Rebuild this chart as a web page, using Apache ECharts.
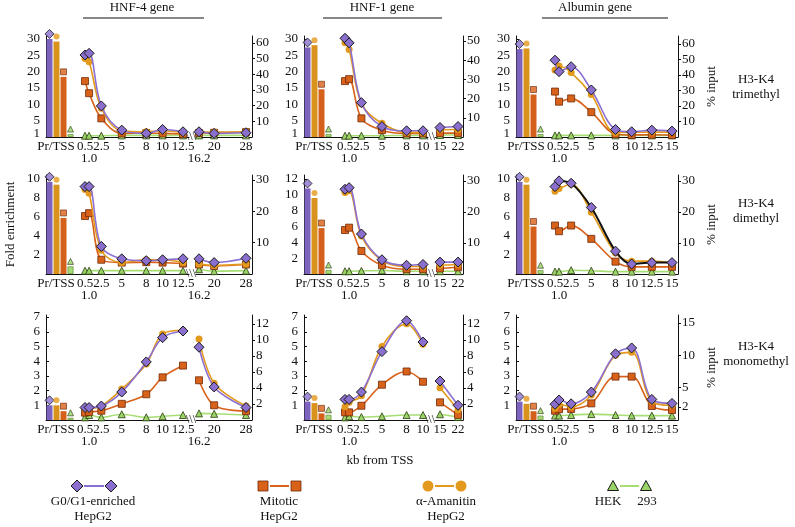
<!DOCTYPE html>
<html>
<head>
<meta charset="utf-8">
<script src="https://cdn.jsdelivr.net/npm/echarts@6/dist/echarts.min.js"></script>
<style>html,body{margin:0;background:#fff}#main{width:795px;height:527px}</style>
</head>
<body>
<div id="main"></div>
<script>
// kb from TSS for each gene (HNF-4 breaks after 12.5, HNF-1 after 10)
const kbHNF4 = [0.5, 1.0, 2.5, 5, 8, 10, 12.5, 16.2, 20, 28];
const kbHNF1 = [0.5, 1.0, 2.5, 5, 8, 10, 15, 22];
const kbAlb = [0.5, 1.0, 2.5, 5, 8, 10, 12.5, 15];

// Pr/TSS bars, order: G0/G1, α-Amanitin, Mitotic, HEK 293
const barCats = ['G0/G1', 'α-Amanitin', 'Mitotic', 'HEK'];

// H3-K4 trimethyl
const triHNF4Bars = [30, 29.2, 18.4, 0.9];
const triHNF4G0 = [25.1, 25.6, 9.5, 2.1, 1.1, 2.3, 1.6, 1.6, 1.1, 1.3];
const triHNF4Ama = [24.0, 23.0, 8.8, 1.9, 1.6, 1.9, 1.3, 1.5, 1.5, 1.6];
const triHNF4Mit = [17.1, 13.4, 5.7, 1.1, 1.2, 1.1, 0.9, 1.2, 1.3, 1.5];
const triHNF4Hek = [0.4, 0.4, 0.4, 0.5, 0.5, 0.5, 0.5, 0.5, 0.5, 0.5];

const triHNF1Bars = [27.4, 28.1, 14.6, 0.9];
const triHNF1G0 = [30.2, 28.8, 10.5, 3.2, 1.9, 1.9, 2.9, 3.2];
const triHNF1Ama = [28.8, 26.8, 10.2, 4.2, 1.4, 1.4, 2.2, 2.3];
const triHNF1Mit = [17.1, 17.7, 5.7, 2.1, 1.1, 1.1, 1.2, 1.2];
const triHNF1Hek = [0.4, 0.4, 0.4, 0.4, 0.5, 0.5, 0.6, 0.6];

const triAlbBars = [26.9, 27.1, 13.0, 0.9];
const triAlbG0 = [23.5, 20.0, 21.5, 14.4, 2.3, 1.6, 2.1, 1.8];
const triAlbAma = [20.5, 21.7, 19.7, 13.0, 1.4, 1.4, 1.5, 1.5];
const triAlbMit = [13.9, 10.8, 11.8, 7.6, 0.9, 0.6, 0.7, 0.6];
const triAlbHek = [0.5, 0.5, 0.5, 0.5, 0.5, 0.5, 0.5, 0.5];

// H3-K4 dimethyl
const diHNF4Bars = [9.7, 9.4, 5.9, 0.8];
const diHNF4G0 = [9.2, 9.2, 2.9, 1.6, 1.4, 1.5, 1.6, 1.6, 1.2, 1.65];
const diHNF4Ama = [8.9, 8.5, 2.5, 1.2, 1.5, 1.5, 1.2, 1.05, 0.9, 1.05];
const diHNF4Mit = [6.1, 6.4, 1.5, 1.2, 1.25, 1.2, 1.1, 1.0, 0.85, 1.0];
const diHNF4Hek = [0.35, 0.35, 0.35, 0.35, 0.35, 0.35, 0.35, 0.5, 0.3, 0.35];

const diHNF1Bars = [10.8, 9.6, 5.8, 0.5];
const diHNF1G0 = [10.7, 10.9, 5.05, 1.8, 1.1, 1.2, 1.5, 1.5];
const diHNF1Ama = [10.3, 10.5, 4.8, 1.7, 0.95, 0.95, 1.1, 1.2];
const diHNF1Mit = [5.55, 5.85, 2.9, 1.1, 0.6, 0.6, 0.7, 0.85];
const diHNF1Hek = [0.35, 0.35, 0.4, 0.45, 0.35, 0.35, 0.35, 0.35];

const diAlbBars = [9.7, 9.4, 5.0, 0.4];
const diAlbG0 = [9.2, 9.8, 9.55, 7.0, 2.4, 1.05, 1.2, 1.2];
const diAlbAma = [8.7, 9.0, 9.45, 6.5, 2.2, 1.35, 1.35, 1.15];
const diAlbMit = [5.1, 4.5, 5.1, 3.7, 1.3, 0.75, 0.75, 0.75];
const diAlbHek = [0.25, 0.25, 0.4, 0.35, 0.25, 0.25, 0.25, 0.25];

// H3-K4 monomethyl
const monoHNF4Bars = [1.0, 1.0, 0.6, 0.15];
const monoHNF4G0 = [0.85, 0.85, 0.95, 1.9, 3.95, 5.6, 6.05, 4.95, 2.25, 0.85];
const monoHNF4Ama = [0.8, 0.8, 0.95, 2.1, 3.8, 5.85, 6.1, 5.5, 2.5, 0.95];
const monoHNF4Mit = [0.5, 0.55, 0.63, 1.1, 1.75, 2.9, 3.7, 2.7, 1.0, 0.6];
const monoHNF4Hek = [0.18, 0.34, 0.18, 0.39, 0.18, 0.25, 0.34, 0.45, 0.42, 0.34];

const monoHNF1Bars = [1.25, 1.15, 0.45, 0.35];
const monoHNF1G0 = [1.4, 1.4, 1.9, 4.65, 6.75, 5.3, 2.65, 1.0];
const monoHNF1Ama = [0.9, 1.2, 1.65, 5.0, 6.55, 5.15, 2.2, 0.7];
const monoHNF1Mit = [0.52, 0.52, 0.97, 2.4, 3.3, 2.6, 1.2, 0.35];
const monoHNF1Hek = [0.18, 0.25, 0.2, 0.25, 0.34, 0.34, 0.39, 0.2];

const monoAlbBars = [1.25, 1.1, 0.6, 0.3];
const monoAlbG0 = [1.07, 1.36, 1.1, 1.9, 4.5, 4.9, 1.4, 1.13];
const monoAlbAma = [0.8, 1.07, 0.9, 1.7, 4.4, 4.6, 1.25, 1.0];
const monoAlbMit = [0.63, 0.73, 0.75, 1.13, 2.95, 2.95, 0.95, 0.68];
const monoAlbHek = [0.3, 0.3, 0.34, 0.4, 0.34, 0.3, 0.3, 0.3];

// tick labels: first line and second line under the kb axis
const xTicksA = [[0.5, 2.5, 5, 8, 10, 12.5], [0.5, 2.5, 5, 8, 10], [0.5, 2.5, 5, 8, 10, 12.5, 15]];
const xTicksA2 = [[1], [1], [1]];
const xTicksB = [[20, 28], [15, 22], null];
const xTicksB2 = [[16.2], [], null];
const leftTicks = [
  [[1, 5, 10, 15, 20, 25, 30], [1, 5, 10, 15, 20, 25, 30], [1, 5, 10, 15, 20, 25, 30]],
  [[2, 4, 6, 8, 10], [2, 4, 6, 8, 10, 12], [2, 4, 6, 8, 10]],
  [[1, 2, 3, 4, 5, 6, 7], [1, 2, 3, 4, 5, 6, 7], [1, 2, 3, 4, 5, 6, 7]]
];
const rightTicks = [
  [[10, 20, 30, 40, 50, 60], [10, 20, 30, 40, 50], [10, 20, 30, 40, 50, 60]],
  [[10, 20, 30], [10, 20, 30], [10, 20, 30]],
  [[2, 4, 6, 8, 10, 12], [2, 4, 6, 8, 10, 12], [2, 5, 10, 15]]
];
const leftMax = [[30.9, 30.9, 30.9], [10.42, 12.5, 10.42], [7.14, 7.14, 7.14]];
const rightMax = [[64.5, 52.6, 65.2], [31.6, 31.9, 31.9], [13.1, 13.1, 16.2]];

const genes = ['HNF-4 gene', 'HNF-1 gene', 'Albumin gene'];
const marks = ['H3-K4\ntrimethyl', 'H3-K4\ndimethyl', 'H3-K4\nmonomethyl'];
const legendNames = ['G0/G1-enriched\nHepG2', 'Mitotic\nHepG2', 'α-Amanitin\nHepG2'];

const kbCols = [kbHNF4, kbHNF1, kbAlb];
const breakAt = [7, 6, null];
const panelData = [
  [[triHNF4Bars, [triHNF4G0, triHNF4Ama, triHNF4Mit, triHNF4Hek]],
   [triHNF1Bars, [triHNF1G0, triHNF1Ama, triHNF1Mit, triHNF1Hek]],
   [triAlbBars, [triAlbG0, triAlbAma, triAlbMit, triAlbHek]]],
  [[diHNF4Bars, [diHNF4G0, diHNF4Ama, diHNF4Mit, diHNF4Hek]],
   [diHNF1Bars, [diHNF1G0, diHNF1Ama, diHNF1Mit, diHNF1Hek]],
   [diAlbBars, [diAlbG0, diAlbAma, diAlbMit, diAlbHek]]],
  [[monoHNF4Bars, [monoHNF4G0, monoHNF4Ama, monoHNF4Mit, monoHNF4Hek]],
   [monoHNF1Bars, [monoHNF1G0, monoHNF1Ama, monoHNF1Mit, monoHNF1Hek]],
   [monoAlbBars, [monoAlbG0, monoAlbAma, monoAlbMit, monoAlbHek]]]
];

// layout (pixels)
const cols = [
  {axisX: 45, aRight: 189, bLeft: 196, right: 252, mapA: [0.5, 85, 12.5, 183], mapB: [16.2, 199, 28, 246]},
  {axisX: 303, aRight: 428, bLeft: 435, right: 463, mapA: [0.5, 345, 10, 423], mapB: [15, 440, 22, 458]},
  {axisX: 515, aRight: 678, right: 678, mapA: [0.5, 555, 15, 672]}
];
const rows = [{top: 36, bottom: 137}, {top: 175, bottom: 274}, {top: 315, bottom: 420}];

const FONT = 'Liberation Serif';
const FS = 13;
const txt = {fontFamily: FONT, fontSize: FS, color: '#111'};
const gfont = FS + 'px "Liberation Serif"';
const black = {onZero: false, lineStyle: {color: '#111', width: 1}};

const barColors = ['#7d63bd', '#d9931c', '#d4601c', '#a8da78'];
const look = [
  {symbol: 'diamond', size: 10, fill: '#8a6fce', line: '#8b6fd1', border: '#1a1a1a', bw: 1, z: 5},
  {symbol: 'circle', size: 7, fill: '#e39a1c', line: '#e39a1c', border: '#e39a1c', bw: 0, z: 4},
  {symbol: 'rect', size: 7, fill: '#d9621a', line: '#d9621a', border: '#6e2a08', bw: 0.8, z: 3},
  {symbol: 'triangle', size: 7, fill: '#9ad466', line: '#a6de74', border: '#2a3a10', bw: 0.8, z: 2}
];

const option = {
  animation: false,
  backgroundColor: '#fff',
  textStyle: {fontFamily: FONT},
  grid: [], xAxis: [], yAxis: [], series: [], graphic: []
};

function addGrid(left, right, top, bottom) {
  option.grid.push({left: left, top: top, width: right - left, height: bottom - top, outerBoundsMode: 'none'});
  return option.grid.length - 1;
}
function range(map, left, right) {
  const slope = (map[3] - map[1]) / (map[2] - map[0]);
  return [map[0] - (map[1] - left) / slope, map[0] + (right - map[1]) / slope];
}
function fmtKb(v) {
  return v === 1 ? '1.0' : String(v);
}
function rightAxis(g, r, c, withName) {
  option.yAxis.push({
    gridIndex: g, type: 'value', position: 'right', min: 0, max: rightMax[r][c],
    axisLine: Object.assign({show: true}, black),
    axisTick: {show: true, inside: false, length: 3, customValues: rightTicks[r][c], lineStyle: {color: '#111'}},
    axisLabel: Object.assign({customValues: rightTicks[r][c], margin: 4, hideOverlap: false}, txt),
    splitLine: {show: false},
    name: withName ? '% input' : '', nameLocation: 'middle', nameRotate: 90, nameGap: 27,
    nameTextStyle: txt
  });
  return option.yAxis.length - 1;
}
function hiddenY(g, r, c) {
  option.yAxis.push({gridIndex: g, type: 'value', min: 0, max: leftMax[r][c], show: false});
  return option.yAxis.length - 1;
}
function valueX(g, mn, mx, ticks, ticks2, extra) {
  option.xAxis.push(Object.assign({
    gridIndex: g, type: 'value', min: mn, max: mx,
    axisLine: Object.assign({show: true}, black),
    axisTick: {show: false},
    axisLabel: Object.assign({customValues: ticks, formatter: fmtKb, margin: 3, hideOverlap: false}, txt),
    splitLine: {show: false}
  }, extra || {}));
  const idx = option.xAxis.length - 1;
  // second row of kb labels (1.0, 16.2)
  if (ticks2 && ticks2.length) {
    option.xAxis.push({
      gridIndex: g, type: 'value', min: mn, max: mx, position: 'bottom',
      axisLine: {show: false, onZero: false}, axisTick: {show: false},
      axisLabel: Object.assign({customValues: ticks2, formatter: fmtKb, margin: 15, hideOverlap: false}, txt),
      splitLine: {show: false}
    });
  }
  return idx;
}
function addLines(xi, yi, kb, lines, from, to, r, c) {
  lines.forEach((vals, s) => {
    const st = look[s];
    const lineColor = (r === 1 && c === 2 && s === 0) ? '#111' : st.line;
    option.series.push({
      type: 'line', xAxisIndex: xi, yAxisIndex: yi, z: st.z,
      smooth: 0.35,
      symbol: st.symbol, symbolSize: st.size,
      itemStyle: {color: st.fill, borderColor: st.border, borderWidth: st.bw},
      lineStyle: {color: lineColor, width: lineColor === '#111' ? 2 : 1.6},
      data: kb.slice(from, to).map((k, i) => [k, vals[from + i]])
    });
  });
}

for (let r = 0; r < 3; r++) {
  for (let c = 0; c < 3; c++) {
    const L = cols[c], R = rows[r];
    const bars = panelData[r][c][0], lines = panelData[r][c][1];
    const kb = kbCols[c];

    // Pr/TSS bars
    const gb = addGrid(L.axisX + 1, L.axisX + 29, R.top, R.bottom);
    option.xAxis.push({
      gridIndex: gb, type: 'category', data: barCats,
      axisLine: Object.assign({show: true}, black), axisTick: {show: false}, axisLabel: {show: false},
      name: 'Pr/TSS', nameLocation: 'middle', nameGap: 3, nameMoveOverlap: false,
      nameTextStyle: Object.assign({padding: [0, 8, 0, 0]}, txt)
    });
    option.yAxis.push({
      gridIndex: gb, type: 'value', position: 'left', min: 0, max: leftMax[r][c],
      axisLine: Object.assign({show: true}, black),
      axisTick: {show: true, inside: true, length: 3, customValues: leftTicks[r][c], lineStyle: {color: '#111'}},
      axisLabel: Object.assign({customValues: leftTicks[r][c], margin: 6, hideOverlap: false}, txt),
      splitLine: {show: false},
      name: (r === 1 && c === 0) ? 'Fold enrichment' : '', nameLocation: 'middle', nameRotate: 90, nameGap: 29,
      nameTextStyle: txt
    });
    const bx = option.xAxis.length - 1, by = option.yAxis.length - 1;
    option.series.push({
      type: 'bar', xAxisIndex: bx, yAxisIndex: by, barWidth: 6,
      data: bars.map((v, i) => ({value: v, itemStyle: {color: barColors[i], borderColor: i === 3 ? '#6a9a40' : barColors[i], borderWidth: i === 3 ? 0.8 : 0}}))
    });
    option.series.push({
      type: 'scatter', xAxisIndex: bx, yAxisIndex: by, symbolOffset: [0, -5], z: 3,
      data: bars.map((v, i) => ({
        value: [i, v], symbol: look[i].symbol,
        symbolSize: look[i].size - 1,
        itemStyle: {color: look[i].fill, borderColor: look[i].border, borderWidth: look[i].bw}
      }))
    });

    // kb lines before the break
    const brk = breakAt[c] === null ? kb.length : breakAt[c];
    const aLeft = L.axisX + 29;
    const ra = range(L.mapA, aLeft, L.aRight);
    const gA = addGrid(aLeft, L.aRight, R.top, R.bottom);
    const extraA = (r === 2 && c === 1) ? {name: 'kb from TSS', nameLocation: 'middle', nameGap: 34, nameMoveOverlap: false, nameTextStyle: txt} : null;
    const xa = valueX(gA, ra[0], ra[1], xTicksA[c], xTicksA2[c], extraA);
    const ya = hiddenY(gA, r, c);
    if (breakAt[c] === null) rightAxis(gA, r, c, true);
    addLines(xa, ya, kb, lines, 0, brk, r, c);

    // kb lines after the break
    if (breakAt[c] !== null) {
      const rb = range(L.mapB, L.bLeft, L.right);
      const gB = addGrid(L.bLeft, L.right, R.top, R.bottom);
      const xb = valueX(gB, rb[0], rb[1], xTicksB[c], xTicksB2[c], {
        name: '\\\\\\', nameLocation: 'start', nameGap: 0, nameMoveOverlap: false,
        nameTextStyle: {fontFamily: FONT, fontSize: 12, color: '#111', verticalAlign: 'middle'}
      });
      const yb = hiddenY(gB, r, c);
      rightAxis(gB, r, c, false);
      addLines(xb, yb, kb, lines, brk, kb.length, r, c);
    }
  }
}

// gene titles with rules
const titleX = [142, 382, 595];
const ruleX = [[83, 204], [323, 442], [542, 668]];
genes.forEach((g, i) => {
  option.graphic.push({type: 'text', x: titleX[i], y: 8, style: {text: g, font: gfont, fill: '#111', align: 'center', verticalAlign: 'middle'}});
  option.graphic.push({type: 'line', shape: {x1: ruleX[i][0], y1: 18, x2: ruleX[i][1], y2: 18}, style: {stroke: '#111', lineWidth: 1}});
});
// modification labels
const markY = [87, 211, 354];
marks.forEach((m, i) => {
  option.graphic.push({type: 'text', x: 756, y: markY[i], style: {text: m, font: gfont, lineHeight: 15, fill: '#111', align: 'center', verticalAlign: 'middle'}});
});

// legend
function legendSym(kind, x, y, st) {
  if (kind === 'diamond') return {type: 'polygon', shape: {points: [[x, y - 6], [x + 6, y], [x, y + 6], [x - 6, y]]}, style: {fill: st.fill, stroke: '#1a1a1a', lineWidth: 1}, z: 10};
  if (kind === 'rect') return {type: 'rect', shape: {x: x - 5, y: y - 5, width: 10, height: 10}, style: {fill: st.fill, stroke: '#6e2a08', lineWidth: 0.8}, z: 10};
  if (kind === 'circle') return {type: 'circle', shape: {cx: x, cy: y, r: 5.5}, style: {fill: st.fill}, z: 10};
  return {type: 'polygon', shape: {points: [[x, y - 5.5], [x + 5.5, y + 4.5], [x - 5.5, y + 4.5]]}, style: {fill: st.fill, stroke: '#1a1a1a', lineWidth: 1}, z: 10};
}
const legendItems = [
  {st: look[0], xs: [77, 111], tx: 93, text: legendNames[0]},
  {st: look[2], xs: [263, 296], tx: 279, text: legendNames[1]},
  {st: look[1], xs: [428, 461], tx: 446, text: legendNames[2]},
  {st: look[3], xs: [613, 646], tx: null, text: null}
];
legendItems.forEach(it => {
  option.graphic.push({type: 'line', shape: {x1: it.xs[0] + 7, y1: 486, x2: it.xs[1] - 7, y2: 486}, style: {stroke: it.st.line, lineWidth: 2}});
  option.graphic.push(legendSym(it.st.symbol, it.xs[0], 486, it.st));
  option.graphic.push(legendSym(it.st.symbol, it.xs[1], 486, it.st));
  if (it.text) {
    option.graphic.push({type: 'text', x: it.tx, y: 509, style: {text: it.text, font: gfont, lineHeight: 15, fill: '#111', align: 'center', verticalAlign: 'middle'}});
  }
});
option.graphic.push({type: 'text', x: 608, y: 502, style: {text: 'HEK', font: gfont, fill: '#111', align: 'center', verticalAlign: 'middle'}});
option.graphic.push({type: 'text', x: 647, y: 502, style: {text: '293', font: gfont, fill: '#111', align: 'center', verticalAlign: 'middle'}});

const chart = echarts.init(document.getElementById('main'), null, {renderer: 'canvas'});
chart.setOption(option);
</script>
</body>
</html>
